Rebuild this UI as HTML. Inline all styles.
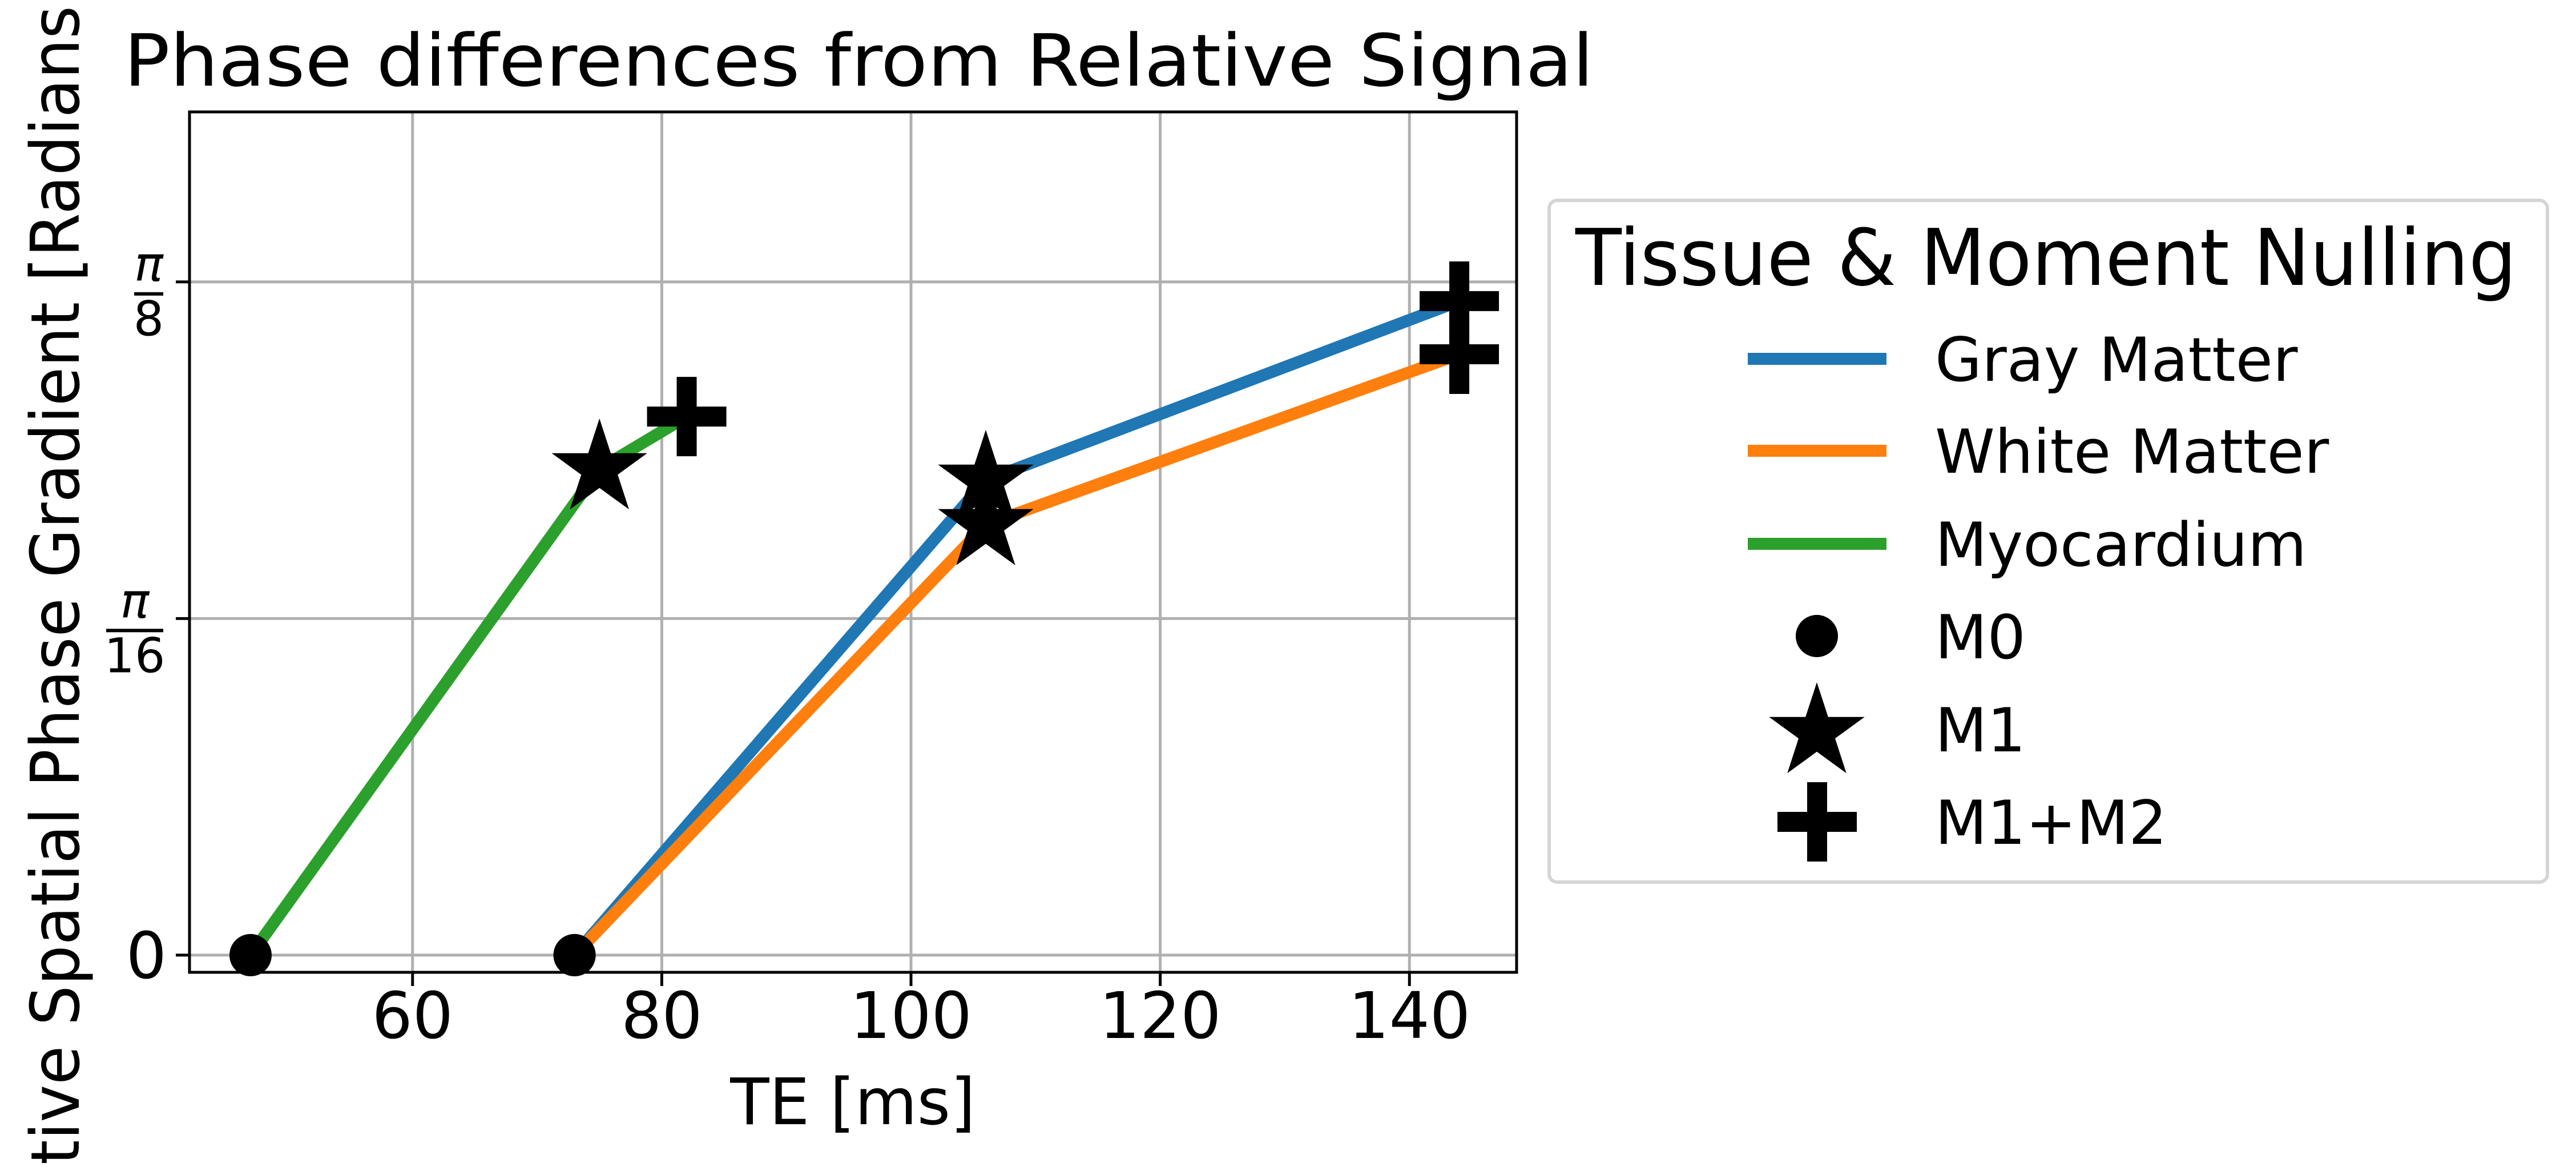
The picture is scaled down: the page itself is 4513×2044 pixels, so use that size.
<!DOCTYPE html>
<html><head><meta charset="utf-8"><style>
html,body{margin:0;padding:0;background:#fff;overflow:hidden;width:4513px;height:2044px;}
svg{display:block;font-family:"DejaVu Sans","Liberation Sans",sans-serif;}
</style></head><body>
<svg id="chart" width="4513" height="2044" viewBox="0 0 4513 2044" xmlns="http://www.w3.org/2000/svg">
<rect width="4513" height="2044" fill="#fff"/>
<text x="217" y="150" font-size="126" textLength="2575" lengthAdjust="spacingAndGlyphs">Phase differences from Relative Signal</text>
<g id="grid"></g>
<g id="series"></g>
<g id="markers"></g>
<rect x="332" y="196" width="2325" height="1507" fill="none" stroke="#000" stroke-width="5"/>
<g id="xticks"></g>
<g id="yticks"></g>
<text x="1494" y="1969" font-size="112" text-anchor="middle">TE [ms]</text>
<text transform="translate(138,2040) rotate(-90)" x="0" y="0" font-size="118" textLength="2030" lengthAdjust="spacingAndGlyphs">tive Spatial Phase Gradient [Radians</text>
<g>
<rect x="2714" y="351" width="1749" height="1194" rx="14" fill="#fff" stroke="#d5d5d5" stroke-width="6"/>
<text x="2760" y="499" font-size="137" textLength="1649" lengthAdjust="spacingAndGlyphs">Tissue &amp; Moment Nulling</text>
<g><rect x="3062" y="618" width="243" height="21" fill="#1f77b4"/><text x="3390" y="667" font-size="106">Gray Matter</text></g>
<g><rect x="3062" y="779" width="243" height="21" fill="#ff7f0e"/><text x="3390" y="828" font-size="106">White Matter</text></g>
<g><rect x="3062" y="942" width="243" height="21" fill="#2ca02c"/><text x="3390" y="991" font-size="106">Myocardium</text></g>
<g><ellipse cx="3183" cy="1114" rx="37" ry="37"/><text x="3390" y="1153" font-size="106">M0</text></g>
<g><polygon id="legstar" points=""/><text x="3390" y="1316" font-size="106">M1</text></g>
<g><rect x="3114" y="1422" width="139" height="35"/><rect x="3166" y="1370" width="35" height="139"/><text x="3390" y="1478" font-size="106">M1+M2</text></g>
</g>
</svg>
<script>
const seriesNames = ['Gray Matter','White Matter','Myocardium'];
const seriesColors = ['#1f77b4','#ff7f0e','#2ca02c'];
const grayTE = [73, 106, 144];
const grayPhase = [0, 1.411, 1.943];
const whiteTE = [73, 106, 144];
const whitePhase = [0, 1.279, 1.785];
const myoTE = [47, 75, 82];
const myoPhase = [0, 1.445, 1.60];
const xTicks = [60, 80, 100, 120, 140];
const yTicks = [0, 1, 2];
const yTickDen = ['', '16', '8'];

const NS='http://www.w3.org/2000/svg';
const X0=332,X1=2657,Y0=1703,Y1=196;
const xmin=42.1,xmax=148.6,ymin=-0.051,ymax=2.505;
function sx(v){return X0+(v-xmin)/(xmax-xmin)*(X1-X0);}
function sy(v){return Y0-(v-ymin)/(ymax-ymin)*(Y0-Y1);}
function mk(tag,attrs,parent){const e=document.createElementNS(NS,tag);for(const k in attrs)e.setAttribute(k,attrs[k]);parent.appendChild(e);return e;}
const grid=document.getElementById('grid'),xt=document.getElementById('xticks'),yt=document.getElementById('yticks');
xTicks.forEach(t=>{
  const x=sx(t);
  const g=mk('line',{x1:x,x2:x,y1:Y1,y2:Y0,stroke:'#b0b0b0','stroke-width':5},grid);
  
  
  const tk=mk('line',{x1:x,x2:x,y1:Y0,y2:Y0+24,stroke:'#000','stroke-width':5},xt);
  
  
  const tx=mk('text',{x:x,y:1818,'font-size':112,'text-anchor':'middle'},xt);
  tx.textContent=String(t);
  
  
});
yTicks.forEach((t,i)=>{
  const y=sy(t);
  const g=mk('line',{x1:X0,x2:X1,y1:y,y2:y,stroke:'#b0b0b0','stroke-width':5},grid);
  
  
  const tk=mk('line',{x1:X0-24,x2:X0,y1:y,y2:y,stroke:'#000','stroke-width':5},yt);
  
  
  const g2=mk('g',{},yt);
  
  
  if(!yTickDen[i]){
    const tx=mk('text',{x:292,y:y+40,'font-size':112,'text-anchor':'end'},g2);tx.textContent='0';
  } else {
    const w=yTickDen[i].length>1?100:51;
    const right=286,left=right-w,cx=(left+right)/2;
    mk('text',{x:cx,y:y-2,'font-size':84,'font-style':'italic','text-anchor':'middle'},g2).textContent='π';
    mk('rect',{x:left,y:y+18,width:w,height:6,fill:'#000'},g2);
    mk('text',{x:cx,y:y+94,'font-size':84,'text-anchor':'middle'},g2).textContent=yTickDen[i];
  }
});
const ser=document.getElementById('series'),mks=document.getElementById('markers');
const allX=[grayTE,whiteTE,myoTE],allY=[grayPhase,whitePhase,myoPhase];
function starPts(cx,cy,R){const r=R*0.382;let p=[];for(let k=0;k<10;k++){const a=-Math.PI/2+k*Math.PI/5;const rr=k%2?r:R;p.push((cx+rr*Math.cos(a)).toFixed(1)+','+(cy+rr*Math.sin(a)).toFixed(1));}return p.join(' ');}
document.getElementById('legstar').setAttribute('points',starPts(3183,1283,88));
allX.forEach((xs,s)=>{
  const pts=xs.map((v,j)=>sx(v)+','+sy(allY[s][j])).join(' ');
  const pl=mk('polyline',{points:pts,fill:'none',stroke:seriesColors[s],'stroke-width':21,'stroke-linejoin':'round'},ser);
  
  
});
allX.forEach((xs,s)=>{
  xs.forEach((v,j)=>{
    const x=sx(v),y=sy(allY[s][j]);let e;
    if(j===0){e=mk('circle',{cx:x,cy:y,r:37,fill:'#000'},mks);}
    else if(j===1){e=mk('polygon',{points:starPts(x,y,88),fill:'#000'},mks);}
    else {e=mk('path',{d:`M${x-69.5},${y-17.5}h139v35h-139z M${x-17.5},${y-69.5}h35v139h-35z`,fill:'#000'},mks);}
    
    
  });
});
</script>
</body></html>
